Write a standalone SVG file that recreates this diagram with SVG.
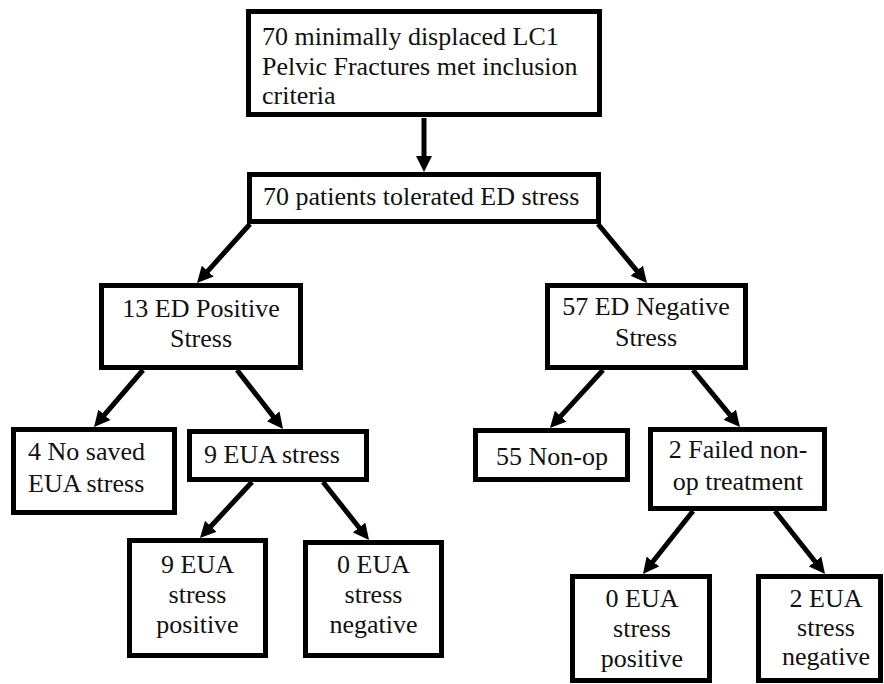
<svg xmlns="http://www.w3.org/2000/svg" width="884" height="684" viewBox="0 0 884 684">
<style>
rect.b{fill:#fff;stroke:#000;stroke-width:5}
.c{text-anchor:middle}
#conn line{stroke:#000;stroke-width:5}
.t{font-family:Liberation Serif,Times New Roman,Times,Tinos,Noto Serif,DejaVu Serif,FreeSerif,serif;font-size:26px;fill:#111}
</style>
<defs>
<marker id="ah" markerUnits="userSpaceOnUse" viewBox="0 0 16 16" markerWidth="16" markerHeight="16" refX="6" refY="8" orient="auto">
<path d="M0,0 L16,8 L0,16 z" fill="#000"/>
</marker>
</defs>
<rect width="884" height="684" fill="#fff"/>
<g id="conn">
<line x1="424" y1="118" x2="424" y2="162" marker-end="url(#ah)"/>
<line x1="250" y1="224" x2="203.7" y2="275.6" marker-end="url(#ah)"/>
<line x1="598" y1="224" x2="640.6" y2="275.3" marker-end="url(#ah)"/>
<line x1="143" y1="370" x2="100.5" y2="419.4" marker-end="url(#ah)"/>
<line x1="237" y1="370" x2="276.9" y2="421.1" marker-end="url(#ah)"/>
<line x1="603" y1="370" x2="556.7" y2="420.6" marker-end="url(#ah)"/>
<line x1="693" y1="370" x2="733.6" y2="419.3" marker-end="url(#ah)"/>
<line x1="252" y1="482" x2="206.8" y2="530.7" marker-end="url(#ah)"/>
<line x1="323" y1="482" x2="362.8" y2="532.2" marker-end="url(#ah)"/>
<line x1="693" y1="511" x2="649.2" y2="566.2" marker-end="url(#ah)"/>
<line x1="775" y1="511" x2="818.8" y2="566.2" marker-end="url(#ah)"/>
</g>
<g class="t">
<g id="n1"><rect class="b" x="248.5" y="11.5" width="351" height="103"/>
<text x="262" y="45">70 minimally displaced LC1</text>
<text x="262" y="75">Pelvic Fractures met inclusion</text>
<text x="262" y="104">criteria</text></g>
<g id="n2"><rect class="b" x="249.5" y="174.5" width="349" height="47"/>
<text x="263" y="205">70 patients tolerated ED stress</text></g>
<g id="n3"><rect class="b" x="101.5" y="285.5" width="199" height="82"/>
<text class="c" x="201" y="317">13 ED Positive</text>
<text class="c" x="201" y="347">Stress</text></g>
<g id="n4"><rect class="b" x="547.5" y="285.5" width="198" height="82"/>
<text class="c" x="646" y="315">57 ED Negative</text>
<text class="c" x="646" y="346">Stress</text></g>
<g id="n5"><rect class="b" x="13.5" y="429.5" width="161" height="83"/>
<text x="28" y="460">4 No saved</text>
<text x="28" y="492">EUA stress</text></g>
<g id="n6"><rect class="b" x="189.5" y="431.5" width="177" height="48"/>
<text x="204" y="463">9 EUA stress</text></g>
<g id="n7"><rect class="b" x="475.5" y="430.5" width="152" height="49"/>
<text class="c" x="552" y="465">55 Non-op</text></g>
<g id="n8"><rect class="b" x="650.5" y="429.5" width="174" height="79"/>
<text class="c" x="738" y="458">2 Failed non-</text>
<text class="c" x="738" y="490">op treatment</text></g>
<g id="n9"><rect class="b" x="129.5" y="540.5" width="136" height="115"/>
<text class="c" x="197.5" y="573">9 EUA</text>
<text class="c" x="197.5" y="603">stress</text>
<text class="c" x="197.5" y="633">positive</text></g>
<g id="n10"><rect class="b" x="305.5" y="542.5" width="136" height="113"/>
<text class="c" x="373.5" y="573">0 EUA</text>
<text class="c" x="373.5" y="603">stress</text>
<text class="c" x="373.5" y="633">negative</text></g>
<g id="n11"><rect class="b" x="572.5" y="576.5" width="137" height="104"/>
<text class="c" x="642" y="607">0 EUA</text>
<text class="c" x="642" y="637">stress</text>
<text class="c" x="642" y="667">positive</text></g>
<g id="n12"><rect class="b" x="758.5" y="576.5" width="122" height="104"/>
<text class="c" x="826" y="607">2 EUA</text>
<text class="c" x="826" y="636">stress</text>
<text class="c" x="826" y="665">negative</text></g>
</g>
</svg>
